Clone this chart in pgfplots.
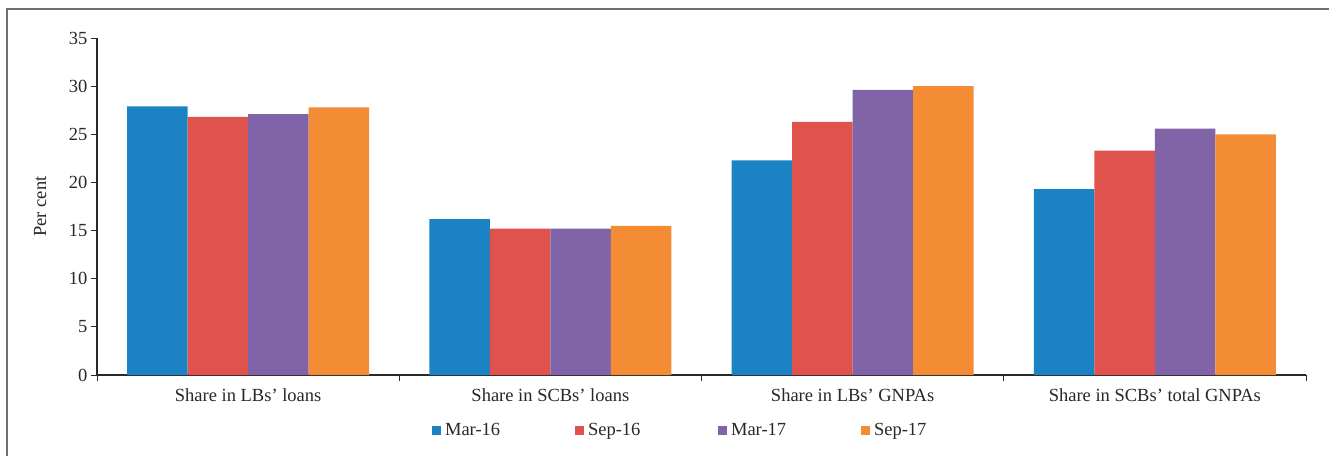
\documentclass[border=0pt]{standalone}
\usepackage{pgfplots}
\pgfplotsset{compat=1.18}
\usepackage{fontspec}
\setmainfont{Liberation Serif}
\definecolor{cA}{RGB}{27,130,196}
\definecolor{cB}{RGB}{224,83,77}
\definecolor{cC}{RGB}{129,100,168}
\definecolor{cD}{RGB}{244,140,54}
\definecolor{axc}{RGB}{40,40,40}
\definecolor{framec}{RGB}{110,110,110}
\newcommand{\lfont}{\fontsize{18.5}{22}\selectfont}
\begin{document}
\begin{tikzpicture}[x=1pt,y=1pt,font=\lfont]
\useasboundingbox (0,0) rectangle (1329,456);
\fill[white] (0,0) rectangle (1329,456);
\draw[framec, line width=2pt] (7,0) -- (7,447) -- (1329,447);
\begin{axis}[
  at={(97pt,81pt)}, anchor=south west,
  width=1209pt, height=337pt, scale only axis,
  xmin=-0.5, xmax=3.5, ymin=0, ymax=35,
  axis x line*=bottom, axis y line*=left,
  axis line style={axc, line width=1.2pt},
  ytick={0,5,...,35},
  xtick={0,1,2,3},
  xticklabels={Share in LBs' loans, Share in SCBs' loans, Share in LBs' GNPAs, Share in SCBs' total GNPAs},
  xticklabel style={yshift=-4pt},
  minor xtick={-0.5,0.5,1.5,2.5,3.5},
  major x tick style={draw=none},
  tick align=outside,
  major tick length=6pt, minor tick length=6pt,
  tick style={axc, line width=1pt},
  ybar=0pt, bar width=60.45pt,
  /pgf/number format/assume math mode=true,
  tick label style={font=\lfont, text=axc},
  ylabel={Per cent},
  ylabel style={at={(axis description cs:-0.047,0.5)}, anchor=center, font=\lfont, text=axc},
  legend columns=4,
  legend cell align=left,
  legend image code/.code={\fill[#1] (0pt,-4.5pt) rectangle (9pt,4.5pt);},
  legend style={at={(axis description cs:0.277,-0.165)}, anchor=west, draw=none, fill=none,
    inner sep=0pt, font=\lfont, text=axc,
    /tikz/every odd column/.append style={column sep=2pt}},
]
\addplot[fill=cA, draw=none] coordinates {(0,27.9) (1,16.2) (2,22.3) (3,19.3)};
\addplot[fill=cB, draw=none] coordinates {(0,26.8) (1,15.2) (2,26.3) (3,23.3)};
\addplot[fill=cC, draw=none] coordinates {(0,27.1) (1,15.2) (2,29.6) (3,25.6)};
\addplot[fill=cD, draw=none] coordinates {(0,27.8) (1,15.5) (2,30.0) (3,25.0)};
\legend{\makebox[128pt][l]{Mar-16}, \makebox[128pt][l]{Sep-16}, \makebox[128pt][l]{Mar-17}, \makebox[128pt][l]{Sep-17}}
\end{axis}
\end{tikzpicture}
\end{document}
